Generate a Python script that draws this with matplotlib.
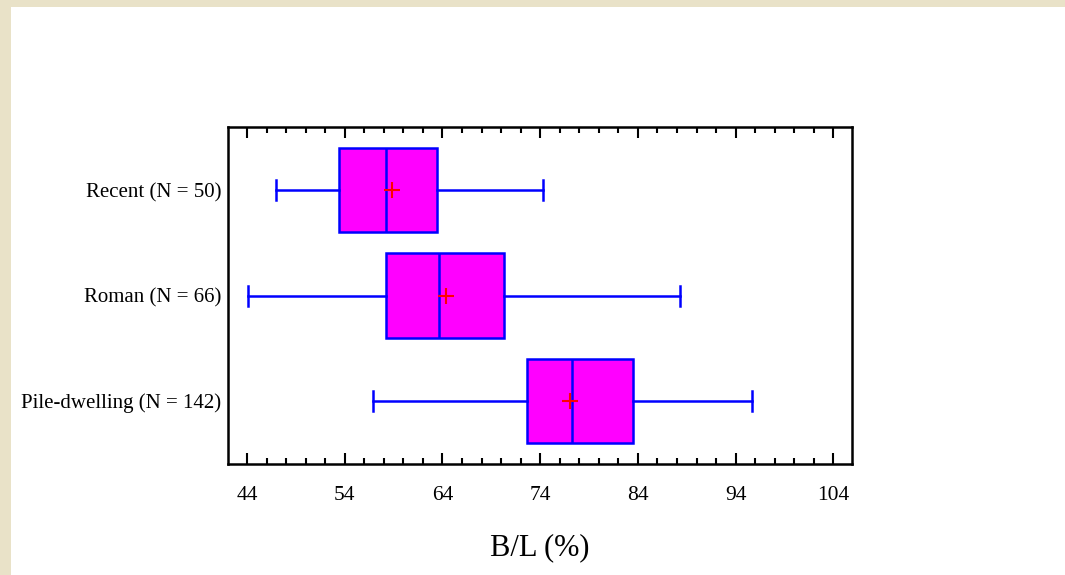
import matplotlib.pyplot as plt
from matplotlib.patches import Rectangle
from matplotlib.ticker import MultipleLocator

# groups, bottom to top as drawn
groups = ['Pile-dwelling (N = 142)', 'Roman (N = 66)', 'Recent (N = 50)']
whislo = [56.9, 44.1, 47.0]
q1 = [72.7, 58.2, 53.4]
med = [77.3, 63.6, 58.2]
q3 = [83.5, 70.3, 63.4]
whishi = [95.7, 88.3, 74.3]
means = [77.0, 64.4, 58.8]

plt.rcParams['font.family'] = ['Liberation Serif', 'DejaVu Serif']

fig = plt.figure(figsize=(10.65, 5.75), dpi=100)
fig.patch.set_facecolor('#e9e2c8')
# white page area
fig.patches.append(Rectangle((11 / 1065, 0), 1, 1 - 7 / 575, transform=fig.transFigure,
                             facecolor='white', edgecolor='none', zorder=-10))

ax = fig.add_axes([0.2141, 0.1930, 0.5859, 0.5861])
ax.set_facecolor('white')

stats = []
for i in range(len(groups)):
    stats.append({'label': groups[i], 'whislo': whislo[i], 'q1': q1[i], 'med': med[i],
                  'q3': q3[i], 'whishi': whishi[i], 'mean': means[i], 'fliers': []})

ax.bxp(stats, positions=[1, 2, 3], vert=False, widths=0.8, showmeans=True,
       patch_artist=True, showfliers=False,
       boxprops=dict(facecolor='#ff00ff', edgecolor='#0000ff', linewidth=1.8),
       medianprops=dict(color='#0000ff', linewidth=1.8),
       whiskerprops=dict(color='#0000ff', linewidth=1.8),
       capprops=dict(color='#0000ff', linewidth=1.8),
       meanprops=dict(marker='+', markeredgecolor='red', markersize=12, markeredgewidth=1.5),
       capwidths=0.19)

ax.set_xlim(42.06, 105.9)
ax.set_ylim(0.4, 3.6)
ax.xaxis.set_major_locator(MultipleLocator(10))
ax.xaxis.set_minor_locator(MultipleLocator(2))
ax.set_xticks(range(44, 105, 10))
ax.tick_params(axis='x', which='both', direction='in', top=True, bottom=True,
               labelsize=15.5, pad=16, width=1.5)
ax.tick_params(axis='x', which='major', length=8)
ax.tick_params(axis='x', which='minor', length=4)
ax.tick_params(axis='y', length=0, labelsize=15, pad=5)
for s in ax.spines.values():
    s.set_linewidth(1.8)
    s.set_color('black')

ax.set_xlabel('B/L (%)', fontsize=22, labelpad=20)

fig.savefig('out.png', dpi=100, facecolor=fig.get_facecolor())
